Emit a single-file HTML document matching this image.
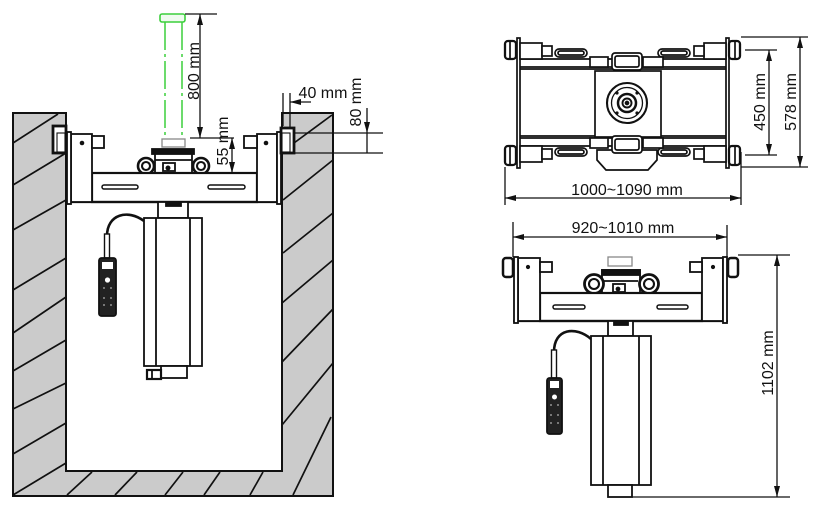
<!DOCTYPE html>
<html><head><meta charset="utf-8"><style>
html,body{margin:0;padding:0;background:#fff;}
svg{display:block;}
text{font-family:"Liberation Sans",sans-serif;font-size:16px;fill:#111;}
</style></head><body>
<svg width="816" height="511" viewBox="0 0 816 511" xmlns="http://www.w3.org/2000/svg">
<g stroke="#111" stroke-width="1.8" fill="none">
<!-- ===== LEFT DRAWING: PIT ===== -->
<path d="M13,113 L66,113 L66,471 L282,471 L282,113 L333,113 L333,496 L13,496 Z" fill="#cbcbcb" stroke-width="2"/>
<g stroke-width="1.7">
<line x1="13" y1="143" x2="58" y2="114"/>
<line x1="13" y1="185" x2="66" y2="153"/>
<line x1="13" y1="230" x2="66" y2="200"/>
<line x1="13" y1="290" x2="66" y2="258"/>
<line x1="13" y1="333" x2="66" y2="297"/>
<line x1="13" y1="371" x2="66" y2="340"/>
<line x1="13" y1="409" x2="66" y2="383"/>
<line x1="13" y1="454" x2="66" y2="423"/>
<line x1="13" y1="495" x2="66" y2="463"/>
<line x1="67" y1="495" x2="92" y2="472"/>
<line x1="115" y1="495" x2="137" y2="472"/>
<line x1="165" y1="495" x2="183" y2="472"/>
<line x1="204" y1="495" x2="220" y2="472"/>
<line x1="250" y1="495" x2="263" y2="472"/>
<line x1="294" y1="143" x2="332" y2="115"/>
<line x1="283" y1="200" x2="333" y2="160"/>
<line x1="283" y1="253" x2="333" y2="213"/>
<line x1="282" y1="303" x2="333" y2="260"/>
<line x1="282" y1="362" x2="333" y2="309"/>
<line x1="282" y1="425" x2="333" y2="363"/>
<line x1="293" y1="495" x2="331" y2="417"/>
</g>

<!-- green pipe -->
<rect x="160" y="14" width="25" height="8" rx="2" stroke="#3ccf3c" fill="#effbef" stroke-width="1.6"/>
<line x1="165" y1="22" x2="165" y2="140" stroke="#3ccf3c" stroke-width="1.5" stroke-dasharray="28 4 3 4"/>
<line x1="182" y1="22" x2="182" y2="140" stroke="#3ccf3c" stroke-width="1.5" stroke-dasharray="28 4 3 4"/>
<rect x="162" y="139" width="23" height="8" stroke="#888" fill="#fff" stroke-width="1.3"/>

<!-- roller mechanism left -->
<rect x="152" y="149" width="42" height="5" fill="#111"/>
<rect x="155" y="154" width="37" height="19" fill="#fff"/>
<line x1="155" y1="160" x2="192" y2="160"/>
<rect x="163" y="163" width="12" height="8" fill="#fff"/>
<circle cx="168" cy="168" r="1.6" fill="#111"/>
<circle cx="146" cy="166" r="8" stroke-width="2.6" fill="#fff"/>
<circle cx="146" cy="166" r="4" stroke-width="2.1"/>
<circle cx="201" cy="166" r="8" stroke-width="2.6" fill="#fff"/>
<circle cx="201" cy="166" r="4" stroke-width="2.1"/>

<!-- brackets + beam left -->
<rect x="92" y="173" width="165" height="29" fill="#fff" stroke-width="2.2"/>
<line x1="67" y1="202" x2="281" y2="202" stroke-width="2.2"/>
<rect x="71" y="134" width="21" height="68" fill="#fff"/>
<rect x="257" y="134" width="20" height="68" fill="#fff"/>
<rect x="67" y="132" width="4" height="72" fill="#fff"/>
<rect x="277" y="132" width="4" height="72" fill="#fff"/>
<rect x="92" y="136" width="12" height="12" fill="#fff"/>
<rect x="244" y="136" width="13" height="12" fill="#fff"/>
<circle cx="82" cy="143" r="2.3" fill="#111" stroke="none"/>
<circle cx="266" cy="143" r="2.3" fill="#111" stroke="none"/>
<rect x="53" y="126" width="13" height="27" fill="#fff" stroke-width="2.8"/>
<rect x="57" y="133" width="8" height="19" fill="#fff" stroke-width="1.1"/>
<rect x="281" y="128" width="13" height="25" fill="#fff" stroke-width="2.8"/>
<rect x="282" y="133" width="8" height="19" fill="#fff" stroke-width="1.1"/>
<rect x="102" y="185" width="36" height="4" rx="2" fill="#fff" stroke-width="1.5"/>
<rect x="208" y="185" width="37" height="4" rx="2" fill="#fff" stroke-width="1.5"/>

<!-- actuator left -->
<rect x="158" y="202" width="30" height="16" fill="#fff"/>
<rect x="166" y="202" width="15" height="4" fill="#111"/>
<rect x="144" y="218" width="58" height="148" fill="#fff"/>
<line x1="156" y1="218" x2="156" y2="366"/>
<line x1="190" y1="218" x2="190" y2="366"/>
<rect x="161" y="366" width="26" height="12" fill="#fff"/>
<rect x="147" y="370" width="14" height="9" fill="#fff" stroke-width="2.2"/>
<line x1="152" y1="370" x2="152" y2="379"/>
<path d="M144,221 C128,209 107,214 107,236" stroke-width="2.6"/>
<rect x="104.5" y="234" width="5" height="24" fill="#fff" stroke-width="1.4"/>
<rect x="99" y="258" width="17" height="58" rx="2.5" fill="#222" stroke="#111"/>
<rect x="102" y="262" width="11" height="7" fill="#fff" stroke="none"/>
<circle cx="107.5" cy="280" r="2.6" fill="#fff" stroke="none"/>
<g fill="#777" stroke="none">
<rect x="103" y="287" width="2" height="2"/><rect x="110" y="287" width="2" height="2"/>
<rect x="103" y="297" width="2" height="2"/><rect x="110" y="297" width="2" height="2"/>
<rect x="103" y="304" width="2" height="2"/><rect x="110" y="304" width="2" height="2"/>
</g>

<!-- dimensions left -->
<g stroke-width="1.3">
<line x1="185" y1="14" x2="217" y2="14"/>
<line x1="190" y1="138" x2="234" y2="138"/>
<line x1="200" y1="14" x2="200" y2="138"/>
<line x1="232" y1="138" x2="232" y2="173"/>
<line x1="283" y1="93" x2="283" y2="126"/>
<line x1="290" y1="93" x2="290" y2="128"/>
<line x1="290" y1="102" x2="311" y2="102"/>
<line x1="367" y1="108" x2="367" y2="153"/>
<line x1="294" y1="133" x2="383" y2="133"/>
<line x1="294" y1="153" x2="383" y2="153"/>
</g>
</g>
<g fill="#111">
<polygon points="200,14 197,25 203,25"/>
<polygon points="200,138 197,127 203,127"/>
<polygon points="232,138 229,149 235,149"/>
<polygon points="232,173 229,162 235,162"/>
<polygon points="290,102 301,99 301,105"/>
<polygon points="367,133 364,122 370,122"/>
</g>
<text transform="translate(193,71) rotate(-90)" text-anchor="middle" y="6">800 mm</text>
<text transform="translate(222,141) rotate(-90)" text-anchor="middle" y="6">55 mm</text>
<text x="323" y="98" text-anchor="middle">40 mm</text>
<text transform="translate(355,102) rotate(-90)" text-anchor="middle" y="6">80 mm</text>

<!-- ===== TOP VIEW ===== -->
<g stroke="#111" stroke-width="1.7" fill="none">
<line x1="520" y1="59" x2="726" y2="59"/>
<line x1="520" y1="67" x2="726" y2="67"/>
<line x1="520" y1="69" x2="726" y2="69"/>
<line x1="520" y1="138" x2="726" y2="138"/>
<line x1="520" y1="136" x2="726" y2="136"/>
<line x1="520" y1="146" x2="726" y2="146"/>
<rect x="517" y="38" width="3" height="130" fill="#fff"/>
<rect x="726" y="38" width="3" height="130" fill="#fff"/>
<rect x="505" y="41" width="11" height="18" rx="3" fill="#fff" stroke-width="2.3"/>
<rect x="505" y="146" width="11" height="19" rx="3" fill="#fff" stroke-width="2.3"/>
<rect x="729" y="41" width="11" height="18" rx="3" fill="#fff" stroke-width="2.3"/>
<rect x="729" y="146" width="11" height="19" rx="3" fill="#fff" stroke-width="2.3"/>
<line x1="510" y1="41" x2="510" y2="59"/><line x1="510" y1="146" x2="510" y2="165"/>
<line x1="735" y1="41" x2="735" y2="59"/><line x1="735" y1="146" x2="735" y2="165"/>
<rect x="520" y="43" width="22" height="16" fill="#fff"/>
<rect x="520" y="146" width="22" height="16" fill="#fff"/>
<rect x="704" y="43" width="22" height="16" fill="#fff"/>
<rect x="704" y="146" width="22" height="16" fill="#fff"/>
<rect x="542" y="46" width="10" height="10" fill="#fff"/>
<rect x="542" y="149" width="10" height="10" fill="#fff"/>
<rect x="694" y="46" width="10" height="10" fill="#fff"/>
<rect x="694" y="149" width="10" height="10" fill="#fff"/>
<rect x="555" y="49" width="32" height="8" rx="4" fill="#fff"/>
<rect x="558" y="51" width="26" height="4" rx="2"/>
<rect x="555" y="148" width="32" height="8" rx="4" fill="#fff"/>
<rect x="558" y="150" width="26" height="4" rx="2"/>
<rect x="658" y="49" width="32" height="8" rx="4" fill="#fff"/>
<rect x="661" y="51" width="26" height="4" rx="2"/>
<rect x="658" y="148" width="32" height="8" rx="4" fill="#fff"/>
<rect x="661" y="150" width="26" height="4" rx="2"/>
<polygon points="597,150 597,160 606,170 648,170 657,160 657,150" fill="#fff"/>
<rect x="595" y="71" width="66" height="66" fill="#fff"/>
<rect x="590" y="57" width="18" height="10" fill="#fff"/>
<rect x="643" y="57" width="20" height="10" fill="#fff"/>
<rect x="612" y="53" width="30" height="17" rx="3" fill="#fff"/>
<rect x="615" y="56" width="24" height="11" rx="2"/>
<rect x="590" y="138" width="18" height="10" fill="#fff"/>
<rect x="643" y="138" width="20" height="10" fill="#fff"/>
<rect x="612" y="136" width="30" height="17" rx="3" fill="#fff"/>
<rect x="615" y="139" width="24" height="11" rx="2"/>
<circle cx="627" cy="103" r="20" stroke-width="2.1"/>
<circle cx="627" cy="103" r="15.5" stroke-width="1.3"/>
<circle cx="627" cy="103" r="9" stroke-width="2.5"/>
<circle cx="627" cy="103" r="4.5" stroke-width="1.9"/>
<circle cx="627" cy="103" r="1.5" fill="#111"/>
<g fill="#111" stroke="none">
<circle cx="617" cy="93" r="1.6"/><circle cx="637" cy="93" r="1.6"/>
<circle cx="617" cy="113" r="1.6"/><circle cx="637" cy="113" r="1.6"/>
</g>
<g stroke-width="1.3">
<line x1="741" y1="37" x2="808" y2="37"/>
<line x1="741" y1="167" x2="808" y2="167"/>
<line x1="800" y1="37" x2="800" y2="167"/>
<line x1="745" y1="50" x2="777" y2="50"/>
<line x1="745" y1="155" x2="777" y2="155"/>
<line x1="769" y1="50" x2="769" y2="155"/>
<line x1="505" y1="167" x2="505" y2="205"/>
<line x1="741" y1="152" x2="741" y2="205"/>
<line x1="505" y1="198" x2="741" y2="198"/>
</g>
</g>
<g fill="#111">
<polygon points="800,37 797,48 803,48"/>
<polygon points="800,167 797,156 803,156"/>
<polygon points="769,50 766,61 772,61"/>
<polygon points="769,155 766,144 772,144"/>
<polygon points="505,198 516,195 516,201"/>
<polygon points="741,198 730,195 730,201"/>
</g>
<text transform="translate(759,102) rotate(-90)" text-anchor="middle" y="6">450 mm</text>
<text transform="translate(790,102) rotate(-90)" text-anchor="middle" y="6">578 mm</text>
<text x="627" y="195" text-anchor="middle">1000~1090 mm</text>

<!-- ===== FRONT VIEW ===== -->
<g stroke="#111" stroke-width="1.8" fill="none">
<rect x="608" y="257" width="24" height="9" stroke="#888" stroke-width="1.3" fill="#fff"/>
<rect x="602" y="270" width="38" height="23" fill="#fff"/>
<rect x="602" y="270" width="38" height="5" fill="#111"/>
<line x1="604" y1="281" x2="638" y2="281"/>
<rect x="613" y="284" width="12" height="8" fill="#fff"/>
<circle cx="618" cy="289" r="1.5" fill="#111"/>
<circle cx="594" cy="284" r="9.5" stroke-width="2.8" fill="#fff"/>
<circle cx="594" cy="284" r="5" stroke-width="2.1"/>
<circle cx="649" cy="284" r="9.5" stroke-width="2.8" fill="#fff"/>
<circle cx="649" cy="284" r="5" stroke-width="2.1"/>

<rect x="540" y="293" width="162" height="28" fill="#fff" stroke-width="2.2"/>
<line x1="513" y1="321" x2="728" y2="321" stroke-width="2.2"/>
<rect x="518" y="258" width="22" height="63" fill="#fff"/>
<rect x="702" y="258" width="21" height="63" fill="#fff"/>
<rect x="514" y="257" width="4" height="66" fill="#fff"/>
<rect x="723" y="257" width="4" height="66" fill="#fff"/>
<rect x="503" y="258" width="10" height="19" rx="3" fill="#fff" stroke-width="2.5"/>
<rect x="728" y="258" width="10" height="19" rx="3" fill="#fff" stroke-width="2.5"/>
<rect x="540" y="262" width="12" height="10" fill="#fff"/>
<rect x="690" y="262" width="12" height="10" fill="#fff"/>
<circle cx="528" cy="267" r="2.1" fill="#111" stroke="none"/>
<circle cx="713" cy="267" r="2.1" fill="#111" stroke="none"/>
<rect x="553" y="305" width="32" height="4" rx="2" fill="#fff" stroke-width="1.5"/>
<rect x="657" y="305" width="31" height="4" rx="2" fill="#fff" stroke-width="1.5"/>

<rect x="608" y="321" width="25" height="15" fill="#fff"/>
<rect x="614" y="321" width="14" height="4" fill="#111"/>
<rect x="591" y="336" width="60" height="149" fill="#fff"/>
<line x1="603" y1="336" x2="603" y2="485"/>
<line x1="639" y1="336" x2="639" y2="485"/>
<rect x="608" y="485" width="24" height="12" fill="#fff"/>
<path d="M591,339 C576,326 554,328 554,352" stroke-width="2.6"/>
<rect x="551.5" y="350" width="5" height="28" fill="#fff" stroke-width="1.4"/>
<rect x="547" y="378" width="15" height="56" rx="2.5" fill="#222"/>
<rect x="550" y="381" width="9" height="7" fill="#fff" stroke="none"/>
<circle cx="554.5" cy="397" r="2.5" fill="#fff" stroke="none"/>
<g fill="#777" stroke="none">
<rect x="550" y="404" width="2" height="2"/><rect x="557" y="404" width="2" height="2"/>
<rect x="550" y="414" width="2" height="2"/><rect x="557" y="414" width="2" height="2"/>
<rect x="550" y="422" width="2" height="2"/><rect x="557" y="422" width="2" height="2"/>
</g>

<g stroke-width="1.3">
<line x1="513" y1="222" x2="513" y2="257"/>
<line x1="727" y1="225" x2="727" y2="257"/>
<line x1="513" y1="237" x2="727" y2="237"/>
<line x1="738" y1="255" x2="790" y2="255"/>
<line x1="632" y1="497" x2="790" y2="497"/>
<line x1="777" y1="255" x2="777" y2="497"/>
</g>
</g>
<g fill="#111">
<polygon points="513,237 524,234 524,240"/>
<polygon points="727,237 716,234 716,240"/>
<polygon points="777,255 774,266 780,266"/>
<polygon points="777,497 774,486 780,486"/>
</g>
<text x="623" y="233" text-anchor="middle">920~1010 mm</text>
<text transform="translate(767,363) rotate(-90)" text-anchor="middle" y="6">1102 mm</text>
</svg>
</body></html>
